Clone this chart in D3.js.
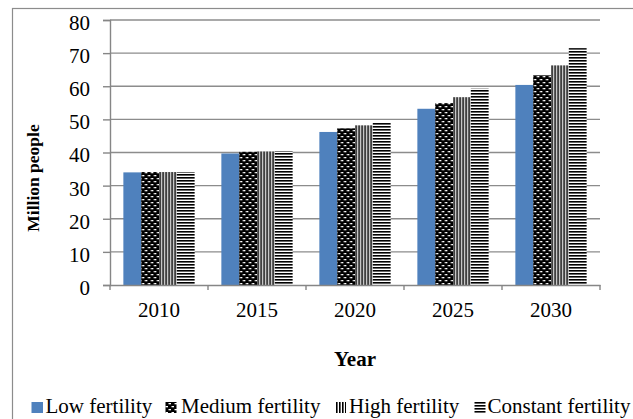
<!DOCTYPE html>
<html>
<head>
<meta charset="utf-8">
<script src="https://cdn.jsdelivr.net/npm/d3@7"></script>
<style>
  html, body { margin: 0; padding: 0; background: #fff; }
  svg { display: block; }
  text { font-family: "Liberation Serif", "Times New Roman", serif; fill: #000; }
</style>
</head>
<body>
<script>
// Population projection, million people
const years = ["2010", "2015", "2020", "2025", "2030"];
const seriesNames = ["Low fertility", "Medium fertility", "High fertility", "Constant fertility"];
const lowFertility      = [34.0, 39.7, 46.2, 53.2, 60.4];
const mediumFertility   = [34.1, 40.2, 47.3, 54.9, 63.3];
const highFertility     = [34.1, 40.3, 48.2, 56.7, 66.3];
const constantFertility = [34.1, 40.4, 48.9, 59.3, 71.5];
const yTicks = [0, 10, 20, 30, 40, 50, 60, 70, 80];

const seriesValues = [lowFertility, mediumFertility, highFertility, constantFertility];
const fills = ["#4f81bd", "url(#pat-medium)", "url(#pat-high)", "url(#pat-constant)"];

const W = 633, H = 419;
const plot = { left: 110, right: 600, top: 20, bottom: 285 };
const axisGrey = "#868686";

const svg = d3.select("body").append("svg").attr("width", W).attr("height", H);

// Hatch patterns for the monochrome series
const defs = svg.append("defs");
const pm = defs.append("pattern").attr("id", "pat-medium")
  .attr("patternUnits", "userSpaceOnUse").attr("width", 6).attr("height", 6);
pm.append("rect").attr("width", 6).attr("height", 6).attr("fill", "#000");
pm.append("rect").attr("x", 0.5).attr("y", 1).attr("width", 2.5).attr("height", 1.3).attr("fill", "#fff");
pm.append("rect").attr("x", 3.5).attr("y", 4).attr("width", 2.5).attr("height", 1.3).attr("fill", "#fff");

const ph = defs.append("pattern").attr("id", "pat-high")
  .attr("patternUnits", "userSpaceOnUse").attr("width", 3).attr("height", 3);
ph.append("rect").attr("width", 3).attr("height", 3).attr("fill", "#fff");
ph.append("rect").attr("x", 0).attr("width", 1.6).attr("height", 3).attr("fill", "#000");

const pc = defs.append("pattern").attr("id", "pat-constant")
  .attr("patternUnits", "userSpaceOnUse").attr("width", 3).attr("height", 3);
pc.append("rect").attr("width", 3).attr("height", 3).attr("fill", "#fff");
pc.append("rect").attr("y", 0).attr("width", 3).attr("height", 1.6).attr("fill", "#000");

// Chart frame
svg.append("rect").attr("x", 12.5).attr("y", 8.5).attr("width", 700).attr("height", 500)
  .attr("fill", "none").attr("stroke", "#8c8c8c").attr("stroke-width", 1.2);

const x = d3.scaleBand().domain(years).range([plot.left, plot.right]).paddingInner(0).paddingOuter(0);
const y = d3.scaleLinear().domain([0, 80]).range([plot.bottom, plot.top]);
const barW = x.bandwidth() / 5.5;        // gap width 150%
const inner = d3.scaleBand().domain(d3.range(4)).range([0, barW * 4]);

// Gridlines
svg.append("g").selectAll("line").data(yTicks.filter(d => d > 0)).join("line")
  .attr("x1", plot.left).attr("x2", plot.right)
  .attr("y1", d => y(d)).attr("y2", d => y(d))
  .attr("stroke", "#8c8c8c").attr("stroke-width", 1.4);

// Bars
const groups = svg.append("g").selectAll("g").data(years).join("g")
  .attr("transform", (d) => `translate(${x(d) + (x.bandwidth() - barW * 4) / 2},0)`);
groups.selectAll("rect").data((d, i) => seriesValues.map((s, k) => ({ k, v: s[i] }))).join("rect")
  .attr("x", d => inner(d.k))
  .attr("width", barW)
  .attr("y", d => y(d.v))
  .attr("height", d => y(0) - y(d.v))
  .attr("fill", d => fills[d.k]);

// Y axis
const yAxis = svg.append("g").attr("transform", `translate(${plot.left},0)`)
  .call(d3.axisLeft(y).tickValues(yTicks).tickSize(7).tickPadding(13).tickFormat(d3.format("d")));
yAxis.attr("font-family", null).attr("font-size", null);
yAxis.select(".domain").attr("stroke", axisGrey).attr("stroke-width", 1.4);
yAxis.selectAll(".tick line").attr("stroke", axisGrey).attr("stroke-width", 1.4);
yAxis.selectAll("text").attr("font-size", 21).attr("dy", "0.45em");

// X axis
const xAxis = svg.append("g").attr("transform", `translate(0,${plot.bottom})`)
  .call(d3.axisBottom(x).tickSize(0));
xAxis.attr("font-family", null).attr("font-size", null);
xAxis.select(".domain").attr("stroke", axisGrey).attr("stroke-width", 1.4);
xAxis.selectAll("text").attr("font-size", 21).attr("y", 32).attr("dy", 0);
// category boundary ticks
const bounds = years.map(d => x(d)).concat([plot.right]);
svg.append("g").selectAll("line").data(bounds).join("line")
  .attr("x1", d => d).attr("x2", d => d)
  .attr("y1", plot.bottom).attr("y2", plot.bottom + 5)
  .attr("stroke", axisGrey).attr("stroke-width", 1.4);

// Axis titles
svg.append("text").attr("x", (plot.left + plot.right) / 2).attr("y", 366)
  .attr("text-anchor", "middle").attr("font-size", 21).attr("font-weight", "bold").text("Year");
svg.append("text").attr("transform", "translate(39,178) rotate(-90)")
  .attr("text-anchor", "middle").attr("font-size", 17.5).attr("font-weight", "bold").text("Million people");

// Legend
const legendIconX = [31.5, 165.5, 335, 474.5];
const legendTextX = [45.5, 181, 349, 487.5];
const legend = svg.append("g").selectAll("g").data(seriesNames).join("g");
legend.append("rect")
  .attr("x", (d, i) => legendIconX[i]).attr("y", 402)
  .attr("width", (d, i) => i === 0 ? 11.5 : 11).attr("height", 11)
  .attr("fill", (d, i) => fills[i]);
legend.append("text").attr("x", (d, i) => legendTextX[i]).attr("y", 413)
  .attr("font-size", 21).text(d => d);
</script>
</body>
</html>
